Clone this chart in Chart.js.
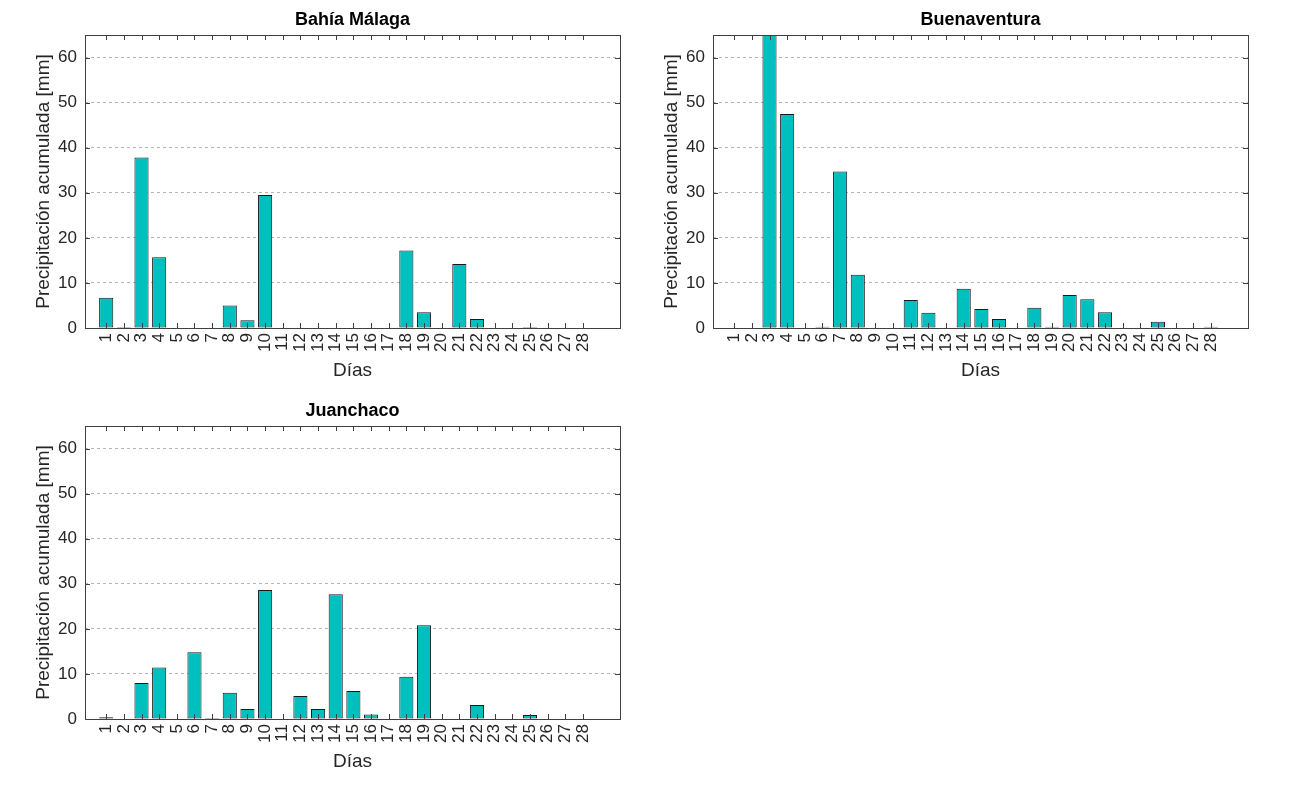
<!DOCTYPE html>
<html>
<head>
<meta charset="utf-8">
<script src="https://cdn.jsdelivr.net/npm/chart.js@4.4.1/dist/chart.umd.min.js"></script>
<style>
  body { margin: 0; background: #fff; }
  canvas { position: absolute; }
</style>
</head>
<body>
<canvas id="c1" width="640" height="390" style="left:0;top:0"></canvas>
<canvas id="c2" width="640" height="390" style="left:628px;top:0"></canvas>
<canvas id="c3" width="640" height="390" style="left:0;top:391px"></canvas>
<script>
// days of the month (x axis)
const dias = [1, 2, 3, 4, 5, 6, 7, 8, 9, 10, 11, 12, 13, 14, 15, 16, 17, 18, 19, 20, 21, 22, 23, 24, 25, 26, 27, 28];
const yTicks = [0, 10, 20, 30, 40, 50, 60];

// precipitacion acumulada [mm] por estacion
const bahiaMalaga = [6.7, 0.2, 37.8, 15.7, 0, 0, 0, 5.0, 1.7, 29.5, 0, 0, 0, 0, 0, 0, 0, 17.2, 3.5, 0, 14.2, 2.0, 0, 0, 0.2, 0, 0, 0];
const buenaventura = [0, 0, 72, 47.5, 0, 0.3, 34.7, 11.8, 0, 0, 6.2, 3.4, 0, 8.7, 4.2, 2.0, 0, 4.5, 0.3, 7.3, 6.4, 3.5, 0, 0, 1.4, 0, 0, 0.3];
const juanchaco = [0.4, 0, 8.0, 11.4, 0, 14.8, 0.2, 5.8, 2.2, 28.6, 0, 5.1, 2.2, 27.7, 6.2, 1.0, 0, 9.4, 20.8, 0, 0, 3.1, 0, 0, 0.9, 0, 0, 0];

const FONT = '"Liberation Sans", Arial, Helvetica, sans-serif';
const BAR_COLOR = '#00BFBF';
const AXIS_COLOR = '#404040';

// box around the axes plus inward tick marks on all four sides
const boxPlugin = {
  id: 'box',
  afterDatasetsDraw(chart) {
    const { ctx, chartArea: a, scales } = chart;
    const x = scales.x, y = scales.y;
    ctx.save();
    ctx.strokeStyle = AXIS_COLOR;
    ctx.lineWidth = 1;
    ctx.strokeRect(Math.round(a.left) + 0.5, Math.round(a.top) + 0.5,
      Math.round(a.right - a.left), Math.round(a.bottom - a.top));
    ctx.beginPath();
    x.ticks.forEach(t => {
      const px = Math.round(x.getPixelForValue(t.value)) + 0.5;
      ctx.moveTo(px, a.bottom); ctx.lineTo(px, a.bottom - 5);
      ctx.moveTo(px, a.top); ctx.lineTo(px, a.top + 5);
    });
    y.ticks.forEach(t => {
      const py = Math.round(y.getPixelForValue(t.value)) + 0.5;
      ctx.moveTo(a.left, py); ctx.lineTo(a.left + 5, py);
      ctx.moveTo(a.right, py); ctx.lineTo(a.right - 5, py);
    });
    ctx.stroke();
    ctx.restore();
  }
};

function makeChart(id, titulo, valores) {
  new Chart(document.getElementById(id), {
    type: 'bar',
    data: {
      datasets: [{
        data: dias.map((d, i) => ({ x: d, y: valores[i] })),
        backgroundColor: BAR_COLOR,
        borderColor: '#1a1a1a',
        borderWidth: 1,
        borderSkipped: false,
        barPercentage: 0.8,
        categoryPercentage: 1
      }]
    },
    options: {
      responsive: false,
      animation: false,
      devicePixelRatio: 1,
      layout: { padding: { left: 0, right: 20, top: 0, bottom: 0 } },
      plugins: {
        legend: { display: false },
        tooltip: { enabled: false },
        title: {
          display: true,
          text: titulo,
          fullSize: false,
          color: '#000',
          font: { family: FONT, size: 18, weight: 'bold' },
          padding: { top: 9, bottom: 4.4 }
        }
      },
      scales: {
        x: {
          type: 'linear',
          offset: false,
          min: -0.2,
          max: 30.1,
          afterBuildTicks: s => { s.ticks = dias.map(d => ({ value: d })); },
          afterFit: s => { s.height = 62; },
          grid: { display: false, drawTicks: false },
          border: { display: false },
          ticks: {
            autoSkip: false,
            minRotation: 90,
            maxRotation: 90,
            padding: 5,
            color: '#262626',
            font: { family: FONT, size: 17 }
          },
          title: {
            display: true,
            text: 'Días',
            color: '#262626',
            font: { family: FONT, size: 19 },
            padding: { top: 0, bottom: 8 }
          }
        },
        y: {
          min: 0,
          max: 65,
          afterBuildTicks: s => { s.ticks = yTicks.map(v => ({ value: v })); },
          afterFit: s => { s.width = 85; },
          grid: {
            color: '#b5b5b5',
            drawTicks: false
          },
          border: { display: false, dash: [3, 3] },
          ticks: {
            padding: 8,
            color: '#262626',
            font: { family: FONT, size: 17 }
          },
          title: {
            display: true,
            text: 'Precipitación acumulada [mm]',
            color: '#262626',
            font: { family: FONT, size: 19 },
            padding: { top: 32, bottom: 0 }
          }
        }
      }
    },
    plugins: [boxPlugin]
  });
}

makeChart('c1', 'Bahía Málaga', bahiaMalaga);
makeChart('c2', 'Buenaventura', buenaventura);
makeChart('c3', 'Juanchaco', juanchaco);
</script>
</body>
</html>
